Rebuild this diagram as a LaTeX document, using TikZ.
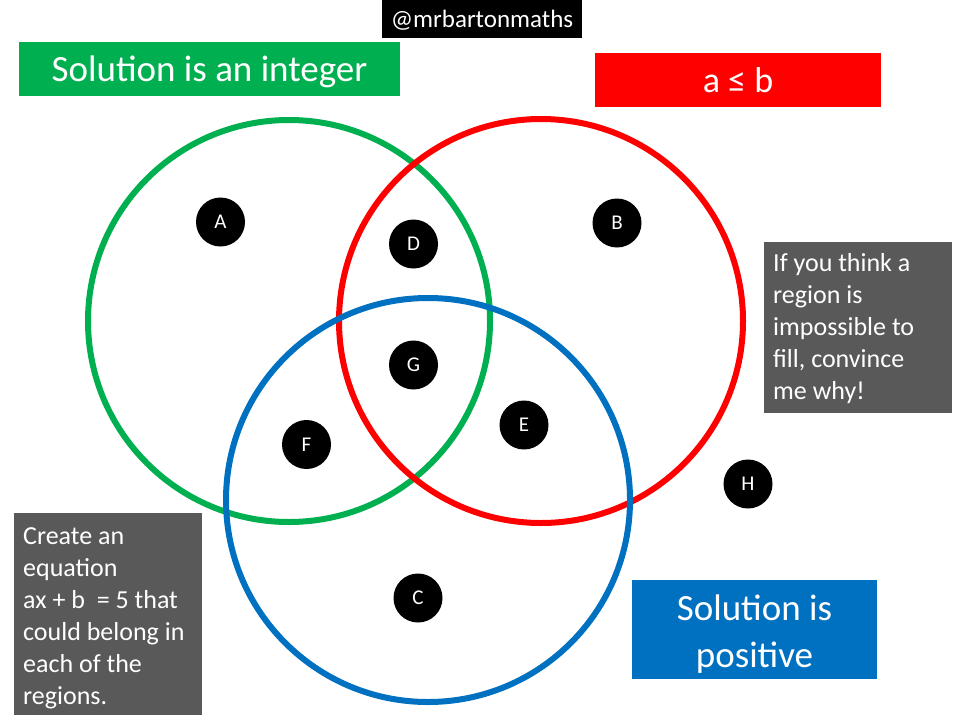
\documentclass[tikz,border=0pt]{standalone}
\usepackage{fontspec}
\setmainfont{Carlito}
\definecolor{vgreen}{RGB}{0,176,80}
\definecolor{vred}{RGB}{255,0,0}
\definecolor{vblue}{RGB}{0,112,192}
\definecolor{vgrey}{RGB}{89,89,89}
\begin{document}
\begin{tikzpicture}[x=1pt,y=-1pt,
  ring/.style={line width=6pt},
  dot/.style={circle, fill=black, minimum size=49pt, inner sep=0pt, text=white, font=\fontsize{21}{24}\selectfont},
  panel/.style={rectangle, inner sep=0pt},
  title/.style={inner sep=0pt, text=white, align=center, font=\fontsize{37}{47}\selectfont},
  notetext/.style={inner sep=0pt, anchor=west, text=white, text width=175pt, align=flush left, font=\fontsize{26}{32}\selectfont}
]
\useasboundingbox (0,0) rectangle (960,720);
\fill[white] (0,0) rectangle (960,720);
\draw[ring, vgreen] (289,321) circle[radius=201pt];
\draw[ring, vred] (541,321) circle[radius=202pt];
\draw[ring, vblue] (428,500) circle[radius=202pt];

\node[panel, fill=black, minimum width=200pt, minimum height=38pt] (handle) at (482,19) {};
\node[title, font=\fontsize{25}{28}\selectfont] (handletext) at (482,20) {@mrbartonmaths};

\node[panel, fill=vgreen, minimum width=381pt, minimum height=54pt] (integer) at (209.5,69) {};
\node[title] (integertext) at (209.5,72) {Solution is an integer};

\node[panel, fill=vred, minimum width=286pt, minimum height=54pt] (aleb) at (738,80) {};
\node[title, font=\fontsize{36}{40}\selectfont] (alebtext) at (738,80) {a ≤ b};

\node[panel, fill=vblue, minimum width=245pt, minimum height=99pt] (positive) at (754.5,629.5) {};
\node[title] (positivetext) at (754.5,634.5) {Solution is\\positive};

\node[panel, fill=vgrey, minimum width=188pt, minimum height=171pt] (convince) at (858,327.5) {};
\node[notetext] (convincetext) at (773,329) {If you think a\\region is\\impossible to\\fill, convince\\me why!};

\node[panel, fill=vgrey, minimum width=188pt, minimum height=202pt] (create) at (108,614) {};
\node[notetext] (createtext) at (23,618) {Create an\\equation\\ax + b~~= 5 that\\could belong in\\each of the\\regions.};

\node[dot] (A) at (220.5,222) {A};
\node[dot] (B) at (617,223) {B};
\node[dot] (D) at (413.5,244) {D};
\node[dot] (G) at (413.5,365) {G};
\node[dot] (F) at (306.5,444.5) {F};
\node[dot] (E) at (524,425) {E};
\node[dot] (H) at (748,484) {H};
\node[dot] (C) at (418,598) {C};
\end{tikzpicture}
\end{document}
